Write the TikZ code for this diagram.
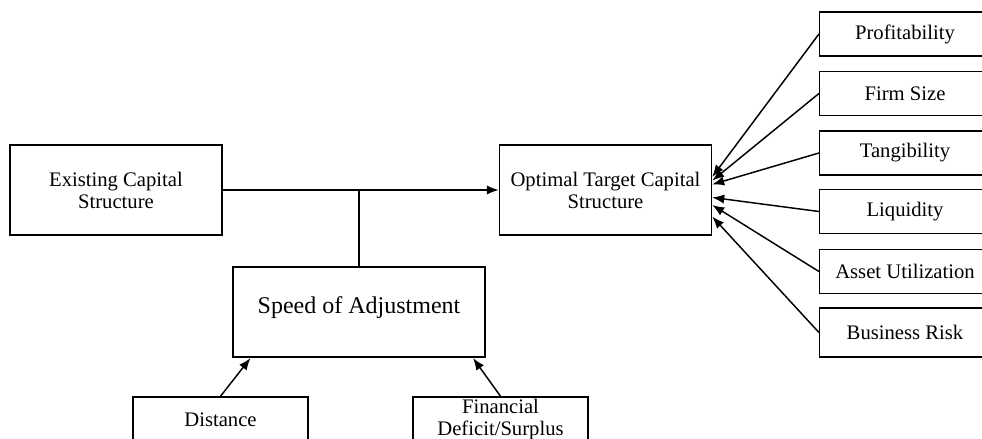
\documentclass[tikz,border=0pt]{standalone}
\usepackage{fontspec}
\setmainfont{Liberation Serif}
\usetikzlibrary{arrows.meta}

\begin{document}
\begin{tikzpicture}[x=0.75pt,y=-0.75pt,
        box/.style={draw,line width=1.1pt,align=center,inner sep=2pt,
            font=\fontsize{15.5}{16.5}\selectfont},
        mainbox/.style={box,minimum width=159pt,minimum height=67.5pt},
        factor/.style={box,minimum width=128pt,minimum height=33pt},
        arr/.style={-{Latex[length=9pt,width=7pt]},line width=1.1pt}]
        \clip (0,0) rectangle (982,439);

        % Define the main boxes
        \node[mainbox] (ECS) at (116,190) {Existing Capital\\Structure};
        \node[mainbox] (OTCS) at (605.5,190) {Optimal Target Capital\\Structure};
        \node[mainbox,minimum width=189pt,line width=1.6pt,
            font=\fontsize{18}{20}\selectfont] (SOA) at (359,312) {Speed of Adjustment\\[-9.5pt]};

        % Define the determinants
        \node[factor] (P1) at (905,34) {Profitability};
        \node[factor] (P2) at (905,93.5) {Firm Size};
        \node[factor] (P3) at (905,153) {Tangibility};
        \node[factor] (P4) at (905,211.5) {Liquidity};
        \node[factor] (P5) at (905,271.5) {Asset Utilization};
        \node[factor,minimum height=36.5pt] (P6) at (905,332.5) {Business Risk};

        \node[factor,minimum width=131pt,minimum height=34.5pt] (D1) at (220.5,420) {Distance};
        \node[factor,minimum width=131pt,minimum height=34.5pt] (D2) at (500.5,420) {Financial\\Deficit/Surplus};

        % Draw arrows
        \draw[arr] (ECS.east) -- (OTCS.west);
        \draw[line width=1.1pt] (SOA.north) -- (SOA.north |- ECS.east);

        \draw[arr] (P1.west) -- (OTCS.7);
        \draw[arr] (P2.west) -- (OTCS.5);
        \draw[arr] (P3.west) -- (OTCS.3);
        \draw[arr] (P4.west) -- (OTCS.-4);
        \draw[arr] (P5.west) -- (OTCS.-8);
        \draw[arr] (P6.west) -- (OTCS.-14);

        \draw[arr] (D1.north) -- (SOA.203);
        \draw[arr] (D2.north) -- (SOA.338);
    \end{tikzpicture}
\end{document}
